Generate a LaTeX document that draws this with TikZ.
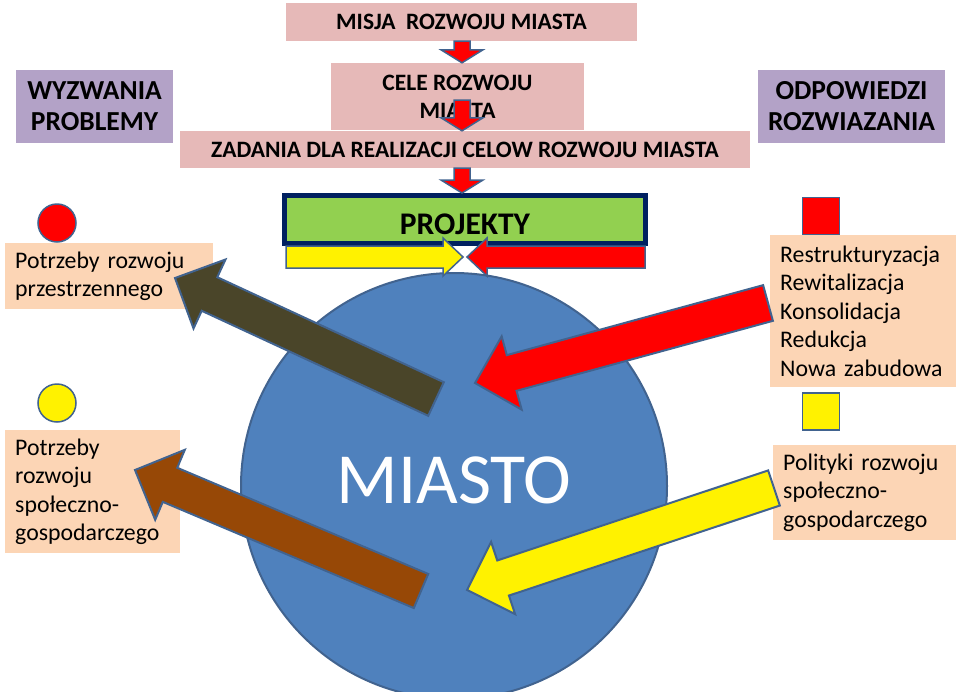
\documentclass[tikz,border=0pt]{standalone}
\usepackage{fontspec}
\setmainfont{Carlito}
\usetikzlibrary{calc,positioning}

\definecolor{hdrpink}{HTML}{E6B9B8}
\definecolor{lilac}{HTML}{B3A2C7}
\definecolor{peach}{HTML}{FCD5B5}
\definecolor{projgreen}{HTML}{92D050}
\definecolor{navy}{HTML}{002060}
\definecolor{cityblue}{HTML}{4F81BD}
\definecolor{edgeblue}{HTML}{41638F}
\definecolor{olive}{HTML}{4A4529}
\definecolor{rust}{HTML}{974806}

% block arrow: style, tail, tip, shaft half, head half, head length
\newcommand{\blockarrow}[6]{%
  \draw[blk,#1,ba/.style={shift={(#2)},rotate=\n1}]
    let \p1=($(#3)-(#2)$), \n1={atan2(\y1,\x1)}, \n2={veclen(\x1,\y1)} in
    ([ba]0,#4) -- ([ba]{\n2-#6},#4) -- ([ba]{\n2-#6},#5) -- ([ba]\n2,0)
    -- ([ba]{\n2-#6},-#5) -- ([ba]{\n2-#6},-#4) -- ([ba]0,-#4) -- cycle;}

\tikzset{
  hdr/.style={fill=hdrpink, inner sep=0pt, align=center,
    font=\fontsize{23.5}{28}\selectfont\bfseries},
  side/.style={fill=lilac, inner sep=0pt, align=center,
    font=\fontsize{27.5}{31}\selectfont\bfseries},
  note/.style={fill=peach, anchor=north west, inner xsep=10pt, inner ysep=0pt, align=left,
    font=\fontsize{23.8}{28.5}\selectfont},
  blk/.style={draw=edgeblue, line width=2pt, line join=miter},
  dot/.style={circle, draw=edgeblue, line width=1.5pt, minimum size=38pt, inner sep=0pt},
  sq/.style={draw=edgeblue, line width=1.5pt, minimum size=37pt, inner sep=0pt},
}

\begin{document}
\begin{tikzpicture}[x=1pt,y=-1pt]
\useasboundingbox (0,0) rectangle (960,691);
\fill[white] (0,0) rectangle (960,691);

% city
\node[circle, fill=cityblue, draw=edgeblue, line width=2pt, minimum size=426pt,
  inner sep=0pt] (miasto) at (454,486) {};
\node[text=white, font=\fontsize{72}{80}\selectfont] (miastolbl) at (454,480) {MIASTO};

% top chain
\node[hdr, minimum width=351pt, minimum height=38pt] (misja) at (461.5,22) {MISJA~ ROZWOJU MIASTA};
\node[hdr, minimum width=253pt, minimum height=67pt] (cele) at (457.5,96.5) {CELE ROZWOJU\\MIASTA};
\node[hdr, minimum width=570pt, minimum height=37pt] (zadania) at (465,149.5) {ZADANIA DLA REALIZACJI CELOW ROZWOJU MIASTA};
\node[side, minimum width=157pt, minimum height=73pt] (wyzwania) at (94.5,106.5) {WYZWANIA\\PROBLEMY};
\node[side, minimum width=187pt, minimum height=73pt] (odpowiedzi) at (851.5,106.5) {ODPOWIEDZI\\ROZWIAZANIA};

% needs and answers
\node[note, text width=188pt, minimum height=66pt] (needA) at (5,243) {Potrzeby rozwoju\\przestrzennego};
\node[note, text width=155pt, minimum height=123pt] (needB) at (5,430) {Potrzeby\\rozwoju\\społeczno-\\gospodarczego};
\node[note, text width=166pt, minimum height=152pt] (ansA) at (770,235) {Restrukturyzacja\\Rewitalizacja\\Konsolidacja\\Redukcja\\Nowa zabudowa};
\node[note, text width=163pt, minimum height=95pt] (ansB) at (773,445) {Polityki rozwoju\\społeczno-\\gospodarczego};

\node[dot, fill=red] (dotR) at (57,223) {};
\node[dot, fill=yellow] (dotY) at (57,403) {};
\node[sq, fill=red] (sqR) at (821,216) {};
\node[sq, fill=yellow] (sqY) at (821,411.5) {};

% projects
\node[draw=navy, line width=5pt, fill=projgreen, minimum width=361pt, minimum height=48pt] (proj) at (465,219.5) {};
\node[font=\fontsize{31.5}{34}\selectfont\bfseries] (projlbl) at (465,224) {PROJEKTY};

\coordinate (yTail) at (286,257);
\coordinate (yTip) at (463,257);
\coordinate (rTail) at (645,257);
\coordinate (rTip) at (467,257);
\blockarrow{fill=yellow, line width=1.5pt}{yTail}{yTip}{11}{19}{20}
\blockarrow{fill=red, line width=1.5pt}{rTail}{rTip}{11}{19}{20}

% down arrows
\coordinate (c2top) at (462,100);
\blockarrow{fill=red, line width=1.5pt}{misja.south -| c2top}{cele.north -| c2top}{8}{21}{13}
\blockarrow{fill=red, line width=1.5pt}{c2top}{zadania.north -| c2top}{8}{21}{13}
\blockarrow{fill=red, line width=1.5pt}{zadania.south -| c2top}{proj.north -| c2top}{8}{21}{13}

% big arrows
\coordinate (oTail) at (436,399);
\coordinate (oTip) at (175,278);
\coordinate (bTail) at (421,591);
\coordinate (bTip) at (135,470);
\coordinate (pTail) at (768,303);
\coordinate (pTip) at (475,383);
\coordinate (qTail) at (774,488);
\coordinate (qTip) at (467,590);
\blockarrow{fill=olive}{oTail}{oTip}{18.5}{38}{38}
\blockarrow{fill=rust}{bTail}{bTip}{18.5}{38}{38}
\blockarrow{fill=red}{pTail}{pTip}{18.5}{38}{38}
\blockarrow{fill=yellow}{qTail}{qTip}{18.5}{38}{38}
\end{tikzpicture}
\end{document}
